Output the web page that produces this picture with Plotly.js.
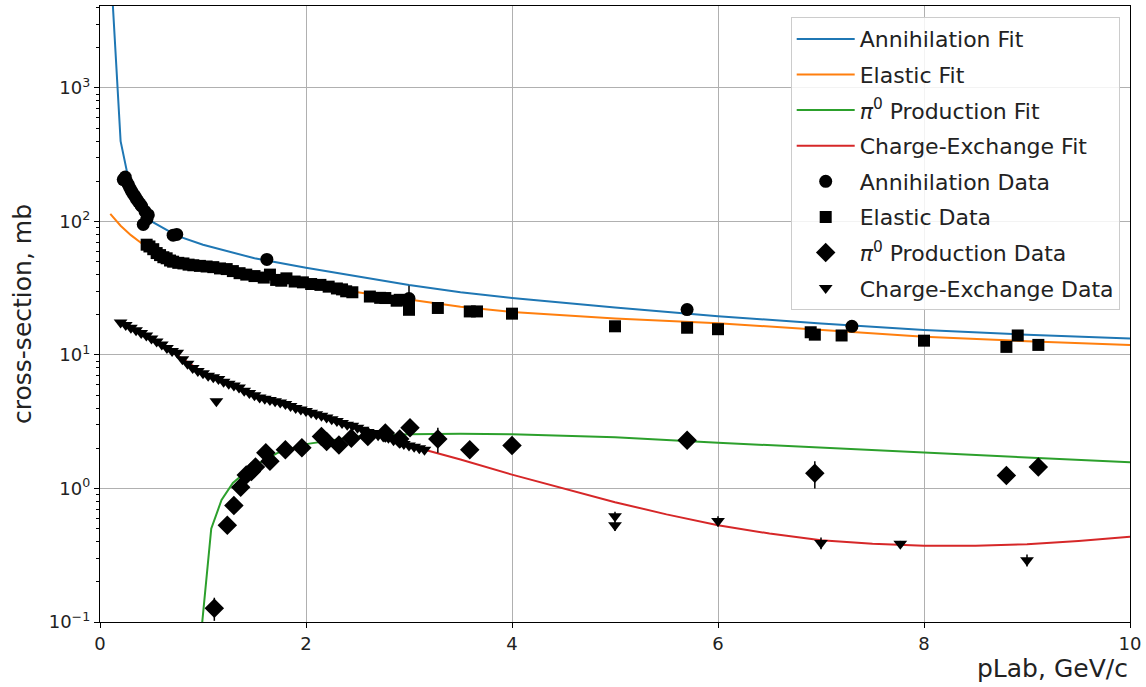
<!DOCTYPE html>
<html>
<head>
<meta charset="utf-8">
<script src="https://cdn.plot.ly/plotly-3.0.1.min.js"></script>
<style>html,body{margin:0;padding:0;background:#fff;}#chart{width:1146px;height:687px;}</style>
</head>
<body>
<div id="chart"></div>
<script>
// ---- Fit curves ----
const annFitX = [0.1, 0.2, 0.3, 0.4, 0.5, 0.75, 1.0, 1.5, 2.0, 2.5, 3.0, 3.5, 4.0, 5.0, 6.0, 7.0, 8.0, 9.0, 10.0];
const annFitY = [9000, 400, 170, 122, 100, 78, 67, 53, 45, 39, 33.5, 29.5, 26.7, 22.7, 19.5, 17.2, 15.4, 14.2, 13.3];

const elFitX = [0.1, 0.2, 0.3, 0.4, 0.5, 0.75, 1.0, 1.5, 2.0, 2.5, 3.0, 3.5, 4.0, 5.0, 6.0, 7.0, 8.0, 9.0, 10.0];
const elFitY = [114, 93, 79, 69, 62, 52, 46, 39, 34, 29.5, 26, 23, 21, 18.8, 17.3, 15.4, 13.7, 12.7, 11.9];

const piFitX = [0.99, 1.08, 1.18, 1.29, 1.46, 1.72, 2.0, 2.5, 3.0, 3.5, 4.0, 5.0, 6.0, 7.0, 8.0, 9.0, 10.0];
const piFitY = [0.095, 0.5, 0.82, 1.1, 1.42, 1.84, 2.15, 2.45, 2.55, 2.57, 2.55, 2.42, 2.2, 2.02, 1.85, 1.7, 1.57];

const ceFitX = [0.2, 0.5, 1.0, 1.5, 2.0, 2.5, 3.0, 3.5, 4.0, 4.5, 5.0, 5.5, 6.0, 6.5, 7.0, 7.5, 8.0, 8.5, 9.0, 9.5, 10.0];
const ceFitY = [17.5, 13.3, 7.4, 5.0, 3.7, 2.85, 2.1, 1.65, 1.27, 1.0, 0.79, 0.64, 0.53, 0.46, 0.41, 0.385, 0.372, 0.372, 0.382, 0.405, 0.435];

// ---- Data points ----
const annX = [0.226, 0.245, 0.26, 0.275, 0.29, 0.308, 0.325, 0.34, 0.355, 0.372, 0.39, 0.405, 0.42, 0.437, 0.455, 0.469, 0.71, 0.745, 1.62, 3.0, 5.7, 7.3];
const annY = [206, 215, 198, 189, 178, 168, 160, 154, 147, 141, 135, 130, 95, 119, 104, 112, 79, 80, 52, 26.5, 21.9, 16.4];
const annErr = [0, 0, 0, 0, 0, 0, 0, 0, 0, 0, 0, 0, 0, 0, 0, 0, 0, 0, 0, 6.5, 0, 0];

const elX = [0.453, 0.48, 0.517, 0.55, 0.583, 0.615, 0.647, 0.68, 0.71, 0.76, 0.81, 0.86, 0.906, 0.97, 1.035, 1.1, 1.165, 1.23, 1.29, 1.355, 1.42, 1.5, 1.59, 1.65, 1.71, 1.76, 1.81, 1.89, 1.97, 2.05, 2.14, 2.22, 2.30, 2.35, 2.39, 2.45, 2.62, 2.72, 2.77, 2.88, 2.91, 3.0, 3.0, 3.28, 3.59, 3.66, 4.0, 5.0, 5.7, 6.0, 6.9, 6.94, 7.2, 8.0, 8.8, 8.91, 9.11];
const elY = [67, 65, 62, 58, 56, 54, 53, 51, 50, 49, 48.5, 47.5, 47, 46.5, 46, 45.5, 44.5, 44, 42.5, 41, 40, 39, 38, 40, 36.5, 36, 37.5, 35.5, 35, 34, 33.5, 32.5, 31.5, 31, 30, 29.5, 27.4, 26.8, 26.7, 25.5, 25.9, 25, 21.8, 22.5, 21.2, 21.2, 20.4, 16.4, 16.0, 15.6, 14.8, 14.2, 14.0, 12.8, 11.5, 14.0, 11.9];

const piX = [1.11, 1.236, 1.30, 1.366, 1.42, 1.47, 1.51, 1.61, 1.65, 1.80, 1.96, 2.15, 2.20, 2.32, 2.44, 2.60, 2.77, 2.91, 3.01, 3.28, 3.59, 4.0, 5.7, 6.94, 8.8, 9.11];
const piY = [0.127, 0.53, 0.745, 1.02, 1.26, 1.34, 1.45, 1.85, 1.6, 1.95, 2.02, 2.45, 2.25, 2.12, 2.38, 2.45, 2.6, 2.35, 2.85, 2.35, 1.95, 2.1, 2.3, 1.3, 1.25, 1.45];
const piErr = [0.025, 0, 0, 0, 0, 0, 0, 0, 0, 0, 0, 0, 0, 0, 0, 0, 0, 0, 0, 0.5, 0, 0, 0, 0.3, 0, 0];

const ceX = [0.20, 0.25, 0.30, 0.35, 0.40, 0.45, 0.50, 0.55, 0.60, 0.65, 0.70, 0.75, 0.80, 0.85, 0.90, 0.95, 1.00, 1.05, 1.10, 1.15, 1.20, 1.25, 1.30, 1.35, 1.40, 1.45, 1.50, 1.55, 1.60, 1.65, 1.70, 1.75, 1.80, 1.85, 1.90, 1.95, 2.00, 2.05, 2.10, 2.15, 2.20, 2.25, 2.30, 2.35, 2.40, 2.45, 2.50, 2.55, 2.60, 2.65, 2.70, 2.75, 2.80, 2.85, 2.90, 2.95, 3.00, 3.05, 3.10, 3.15, 1.13, 5.0, 5.0, 6.0, 7.0, 7.77, 9.0];
const ceY = [17.5, 16.8, 16.0, 15.3, 14.6, 14.0, 13.3, 12.6, 12.0, 11.3, 10.7, 10.4, 9.3, 8.6, 8.0, 7.6, 7.3, 7.0, 6.8, 6.6, 6.3, 6.1, 5.9, 5.7, 5.4, 5.2, 5.0, 4.8, 4.7, 4.6, 4.5, 4.4, 4.3, 4.15, 4.0, 3.9, 3.8, 3.7, 3.6, 3.5, 3.4, 3.3, 3.2, 3.1, 3.0, 2.95, 2.85, 2.75, 2.65, 2.6, 2.5, 2.45, 2.4, 2.3, 2.25, 2.15, 2.1, 2.05, 2.0, 1.95, 4.5, 0.62, 0.53, 0.57, 0.39, 0.385, 0.29];
const ceErr = [0,0,0,0,0,0,0,0,0,0,0,0,0,0,0,0,0,0,0,0,0,0,0,0,0,0,0,0,0,0,0,0,0,0,0,0,0,0,0,0,0,0,0,0,0,0,0,0,0,0,0,0,0,0,0,0,0,0,0,0, 0, 0.05, 0.05, 0.05, 0.04, 0.02, 0.03];

// ---- Axis ticks ----
const yTickVals = [0.1, 1, 10, 100, 1000];
const yTickText = ['10<sup>\u22121</sup>', '10<sup>0</sup>', '10<sup>1</sup>', '10<sup>2</sup>', '10<sup>3</sup>'];
const xTickVals = [0, 2, 4, 6, 8, 10];

const FONT = 'DejaVu Sans, sans-serif';

function fit(x, y, name, color, g) {
  return {x: x, y: y, name: name, legendgroup: g, mode: 'lines', type: 'scatter',
          line: {color: color, width: 2}, hoverinfo: 'skip'};
}
function data(x, y, err, name, symbol, size, g) {
  return {x: x, y: y, name: name, legendgroup: g, mode: 'markers', type: 'scatter',
          marker: {symbol: symbol, size: size, color: '#000'},
          error_y: {type: 'data', array: err, visible: true, color: '#000', thickness: 1.5, width: 0}};
}

const traces = [
  fit(annFitX, annFitY, 'Annihilation Fit', '#1f77b4', 'g1'),
  fit(elFitX, elFitY, 'Elastic Fit', '#ff7f0e', 'g2'),
  fit(piFitX, piFitY, '<i>\u03c0</i><sup>0</sup> Production Fit', '#2ca02c', 'g3'),
  fit(ceFitX, ceFitY, 'Charge-Exchange Fit', '#d62728', 'g4'),
  data(annX, annY, annErr, 'Annihilation Data', 'circle', 13, 'g5'),
  data(elX, elY, null, 'Elastic Data', 'square', 12, 'g6'),
  data(piX, piY, piErr, '<i>\u03c0</i><sup>0</sup> Production Data', 'diamond', 15, 'g7'),
  data(ceX, ceY, ceErr, 'Charge-Exchange Data', 'triangle-down', 12, 'g8')
];
traces[5].error_y = {visible: false};

const layout = {
  width: 1146, height: 687,
  margin: {l: 100, r: 16, t: 6, b: 65},
  paper_bgcolor: '#fff', plot_bgcolor: '#fff',
  font: {family: FONT, color: '#000', size: 18},
  showlegend: true,
  xaxis: {
    range: [0, 10], tickvals: xTickVals, ticks: 'outside', ticklen: 5, tickcolor: '#000',
    showgrid: true, gridcolor: '#b0b0b0', gridwidth: 1, zeroline: false,
    showline: true, linecolor: '#000', linewidth: 1.2, mirror: true,
    tickfont: {family: FONT, size: 18, color: '#222'}
  },
  yaxis: {
    type: 'log', range: [-1, 3.614], tickvals: yTickVals, ticktext: yTickText,
    ticks: 'outside', ticklen: 5, tickcolor: '#000',
    minor: {ticks: 'outside', ticklen: 3, tickcolor: '#000', dtick: 'D1', showgrid: false},
    showgrid: true, gridcolor: '#b0b0b0', gridwidth: 1, zeroline: false,
    showline: true, linecolor: '#000', linewidth: 1.2, mirror: true,
    tickfont: {family: FONT, size: 18, color: '#222'},
    title: {text: 'cross-section, mb', font: {family: FONT, size: 25, color: '#222'}, standoff: 10},
    automargin: false
  },
  legend: {
    x: 0.99, y: 0.982, xanchor: 'right', yanchor: 'top',
    bgcolor: 'rgba(255,255,255,0.85)', bordercolor: '#cccccc', borderwidth: 1,
    font: {family: FONT, size: 22, color: '#222'},
    tracegroupgap: 4, itemwidth: 58
  },
  annotations: [{
    text: 'pLab, GeV/c', xref: 'paper', yref: 'paper', x: 1.0, y: -0.075,
    xanchor: 'right', yanchor: 'middle', showarrow: false,
    font: {family: FONT, size: 25, color: '#222'}
  }]
};

Plotly.newPlot('chart', traces, layout, {displayModeBar: false, staticPlot: true});
</script>
</body>
</html>
